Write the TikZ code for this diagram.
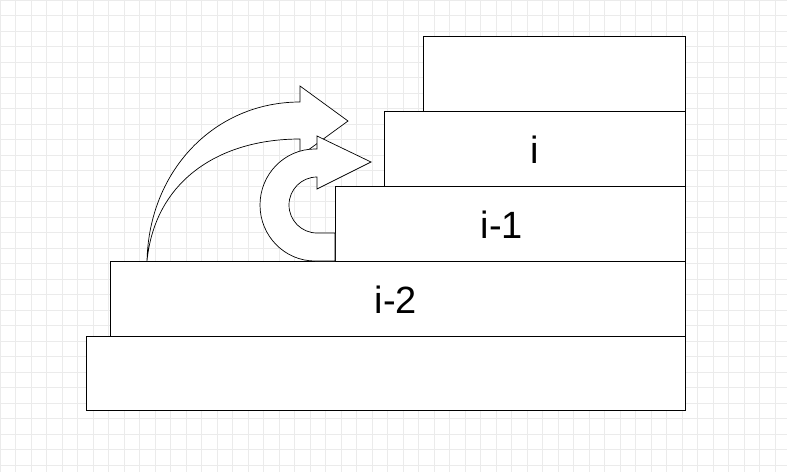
\documentclass[tikz,border=0pt]{standalone}
\usepackage{fontspec}
\setmainfont{Liberation Sans}
\begin{document}
\begin{tikzpicture}[x=1pt,y=-1pt,
    stair/.style={draw=black,fill=white,line width=0.8pt},
    lbl/.style={font=\fontsize{38}{40}\selectfont},
    bendarrow/.style={draw=black,fill=white,line width=0.7pt,line join=miter}]
  \useasboundingbox (0,0) rectangle (787,472);
  % background grid
  \foreach \gx in {0,15.5,...,787} \draw[black!8] (\gx,0) -- (\gx,472);
  \foreach \gy in {0,15.5,...,472} \draw[black!8] (0,\gy) -- (787,\gy);
  % stairs
  \draw[stair] (86,336) rectangle (685,410);
  \draw[stair] (110,261) rectangle (685,336);
  \draw[stair] (335,186) rectangle (685,261);
  \draw[stair] (384,111) rectangle (685,186);
  \draw[stair] (423,36) rectangle (685,111);
  \node[lbl] (lowlbl) at (396,300) {i-2};
  \node[lbl] (midlbl) at (502,225) {i-1};
  \node[lbl] (toplbl) at (535,150) {i};
  % long curved arrow
  \coordinate (jumpfoot) at (147,261);
  \path[bendarrow] (jumpfoot) .. controls (149,170) and (215,102) .. (300,102)
    -- (300,86) -- (348,121) -- (300,156) -- (300,139)
    .. controls (220,139) and (155,180) .. (jumpfoot) -- cycle;
  % u-turn arrow
  \coordinate (turnfoot) at (335,261);
  \path[bendarrow] (turnfoot) -- (315,261) arc[start angle=90,end angle=270,x radius=55,y radius=56]
    -- (317,149) -- (317,136) -- (371,162) -- (317,189) -- (317,177)
    arc[start angle=270,end angle=90,x radius=28,y radius=28]
    -- (335,233) -- cycle;
\end{tikzpicture}
\end{document}
